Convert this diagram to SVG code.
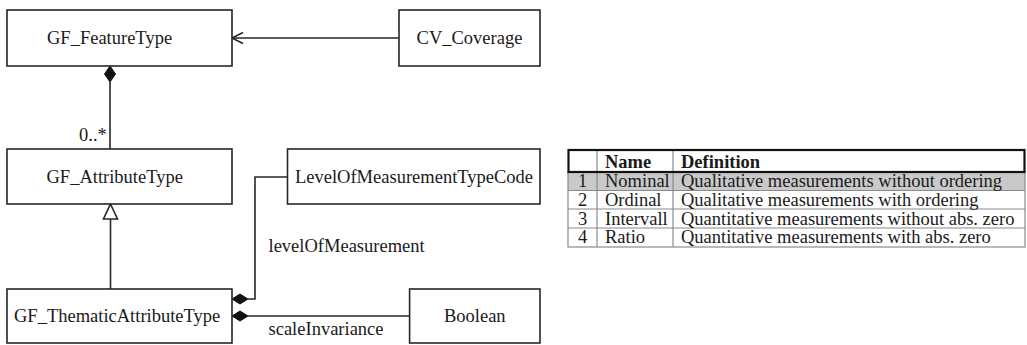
<svg xmlns="http://www.w3.org/2000/svg" width="1027" height="345" viewBox="0 0 1027 345">
<style>
text{font-family:"Liberation Serif","Times New Roman",serif;font-size:18.5px;fill:#1a1a1a}
.box{fill:#fff;stroke:#262626;stroke-width:1.6}
.ln{fill:none;stroke:#262626;stroke-width:1.6}
.dia{fill:#111;stroke:#111;stroke-width:1}
.mid{text-anchor:middle}
.tl{stroke:#8a8a8a;stroke-width:1.2;fill:none}
.b{font-weight:bold}
</style>
<rect width="1027" height="345" fill="#fff"/>
<g id="connectors">
  <path class="ln" d="M399,38 H232"/>
  <polyline class="ln" points="243,32.5 232,38 243,43.5"/>
  <path class="ln" d="M110,82 V149"/>
  <polygon class="dia" points="110,66 115.5,74 110,82 104.5,74"/>
  <path class="ln" d="M110.5,219 V289"/>
  <polygon class="box" points="110.5,204 117.5,219 103.5,219"/>
  <path class="ln" d="M287.5,177 H255 V299 H248"/>
  <polygon class="dia" points="232,299 240,294 248,299 240,304"/>
  <path class="ln" d="M248,316 H409.6"/>
  <polygon class="dia" points="232,316 240,311 248,316 240,321"/>
  <text x="79" y="141">0..*</text>
  <text x="268.5" y="252">levelOfMeasurement</text>
  <text x="268.5" y="335">scaleInvariance</text>
</g>
<g id="GF_FeatureType">
  <rect class="box" x="7" y="10" width="225" height="56"/>
  <text x="47" y="44">GF_FeatureType</text>
</g>
<g id="CV_Coverage">
  <rect class="box" x="399" y="10" width="141" height="56"/>
  <text class="mid" x="469.5" y="44">CV_Coverage</text>
</g>
<g id="GF_AttributeType">
  <rect class="box" x="7" y="149" width="225" height="55"/>
  <text x="46.5" y="182.5">GF_AttributeType</text>
</g>
<g id="LevelOfMeasurementTypeCode">
  <rect class="box" x="287.5" y="149" width="252.5" height="55"/>
  <text class="mid" x="414" y="182.5">LevelOfMeasurementTypeCode</text>
</g>
<g id="GF_ThematicAttributeType">
  <rect class="box" x="7" y="289" width="225" height="54"/>
  <text x="14" y="322">GF_ThematicAttributeType</text>
</g>
<g id="Boolean">
  <rect class="box" x="409.6" y="289" width="130.4" height="54"/>
  <text class="mid" x="474.8" y="322">Boolean</text>
</g>
<g id="table">
  <rect x="568" y="172" width="457" height="18.5" fill="#c9c9c9"/>
  <rect class="tl" x="568" y="172" width="457" height="75"/>
  <path class="tl" d="M568,190.5 H1025 M568,209 H1025 M568,228 H1025 M597,150 V247 M673,150 V247"/>
  <rect x="568.5" y="150" width="456" height="22" fill="none" stroke="#111" stroke-width="2.2"/>
  <text class="b" x="605" y="168">Name</text>
  <text class="b" x="681" y="168">Definition</text>
  <text class="mid" x="582.5" y="187">1</text>
  <text x="605" y="187">Nominal</text>
  <text x="681" y="187">Qualitative measurements without ordering</text>
  <text class="mid" x="582.5" y="205.5">2</text>
  <text x="605" y="205.5">Ordinal</text>
  <text x="681" y="205.5">Qualitative measurements with ordering</text>
  <text class="mid" x="582.5" y="224.5">3</text>
  <text x="605" y="224.5">Intervall</text>
  <text x="681" y="224.5">Quantitative measurements without abs. zero</text>
  <text class="mid" x="582.5" y="243">4</text>
  <text x="605" y="243">Ratio</text>
  <text x="681" y="243">Quantitative measurements with abs. zero</text>
</g>
</svg>
